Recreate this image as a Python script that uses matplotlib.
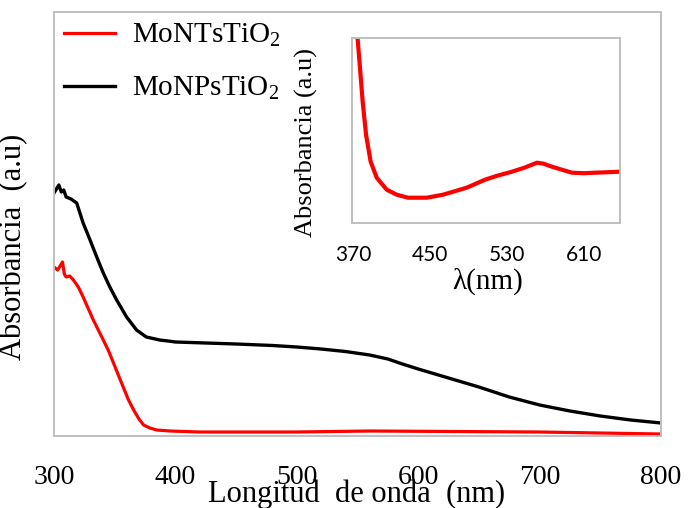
import matplotlib
matplotlib.use("Agg")
import matplotlib.pyplot as plt

plt.rcParams['font.family'] = ['Liberation Serif', 'DejaVu Serif']
plt.rcParams['mathtext.fontset'] = 'custom'
plt.rcParams['mathtext.rm'] = 'Liberation Serif'
plt.rcParams['mathtext.it'] = 'Liberation Serif:italic'

# main spectra (arbitrary absorbance units)
wl_np = [300, 302, 304, 306, 308, 310, 314, 318.7, 324, 329.7, 335.2, 340.6, 346, 351.6,
         359.8, 368, 376, 387, 394, 400, 450, 480, 500, 520, 540, 560, 575, 587, 600,
         625, 650, 675, 700, 725, 750, 775, 800]
abs_np = [2.43, 2.47, 2.51, 2.44, 2.46, 2.39, 2.37, 2.33, 2.13, 1.96, 1.79, 1.63, 1.49,
          1.36, 1.19, 1.06, 0.99, 0.96, 0.95, 0.94, 0.92, 0.905, 0.89, 0.87, 0.845, 0.81,
          0.77, 0.72, 0.67, 0.58, 0.49, 0.39, 0.31, 0.25, 0.20, 0.16, 0.13]

wl_nt = [300, 303, 305, 307, 308.5, 310, 313, 316, 320, 324, 328, 332.4, 336.5, 340.6,
         345, 349, 353, 357, 361, 365.6, 370, 373.8, 379, 384.6, 395.5, 420, 500, 560,
         700, 800]
abs_nt = [1.69, 1.66, 1.70, 1.74, 1.62, 1.59, 1.60, 1.56, 1.49, 1.39, 1.28, 1.16, 1.06,
          0.96, 0.85, 0.73, 0.61, 0.49, 0.37, 0.26, 0.17, 0.11, 0.08, 0.06, 0.05, 0.04,
          0.04, 0.05, 0.04, 0.02]

# inset: MoNTsTiO2 zoom
wl_in = [372, 374.4, 377.2, 380, 383.5, 388.3, 394.6, 405, 415.4, 427.1, 446.5, 463.5,
         488.1, 507.1, 520, 535.1, 548, 561.1, 568, 576.7, 587, 597.5, 610, 621.4,
         635, 647.4]
abs_in = [2.20, 1.88, 1.55, 1.21, 0.88, 0.61, 0.45, 0.33, 0.28, 0.25, 0.25, 0.28,
          0.35, 0.43, 0.47, 0.51, 0.55, 0.60, 0.59, 0.56, 0.53, 0.50, 0.495, 0.50,
          0.505, 0.51]

main_ticks = [300, 400, 500, 600, 700, 800]
inset_ticks = [370, 450, 530, 610]

spine_col = '#bfbfbf'

fig = plt.figure(figsize=(6.9, 5.08), dpi=100)
ax = fig.add_axes([54/690, 72/508, 607/690, 424/508])

ax.plot(wl_nt, abs_nt, color='#ff0000', lw=2.3, label=r'MoNTsTiO$_2$')
ax.plot(wl_np, abs_np, color='black', lw=2.4, label=r'MoNPsTiO$_2$')
ax.set_xlim(300, 800)
ax.set_ylim(0, 4.24)
ax.set_xticks(main_ticks)
ax.set_yticks([])
ax.tick_params(axis='x', length=0, pad=21, labelsize=20)
for s in ax.spines.values():
    s.set_color(spine_col)
    s.set_linewidth(1.4)

ax.set_xlabel('Longitud  de onda  (nm)', fontsize=22)
ax.xaxis.label.set_va('baseline')
ax.xaxis.set_label_coords(0.498, -0.156)
ax.set_ylabel('Absorbancia  (a.u)', fontsize=22)
ax.yaxis.set_label_coords(-0.043, 0.447)

ax.legend(loc='upper left', bbox_to_anchor=(0.016, 0.976), frameon=False,
          fontsize=21, handlelength=1.75, handletextpad=0.6, labelspacing=0.88,
          borderpad=0, borderaxespad=0)

# inset
ax2 = fig.add_axes([351.7/690, (508-222.7)/508, 268.3/690, 184.4/508])
ax2.plot(wl_in, abs_in, color='#ff0000', lw=3.0)
ax2.set_xlim(368.6, 647.4)
ax2.set_ylim(0, 1.844)
ax2.set_xticks(inset_ticks)
ax2.set_yticks([])
ax2.tick_params(axis='x', length=0, pad=16)
for lab in ax2.get_xticklabels():
    lab.set_fontfamily('Lato')
    lab.set_fontsize(15)
for s in ax2.spines.values():
    s.set_color(spine_col)
    s.set_linewidth(1.4)
ax2.set_xlabel(u'\u03bb(nm)', fontsize=21)
ax2.xaxis.label.set_va('baseline')
ax2.xaxis.set_label_coords(0.506, -0.358)
ax2.set_ylabel('Absorbancia (a.u)', fontsize=19)
ax2.yaxis.set_label_coords(-0.125, 0.435)

fig.savefig('out.png', dpi=100)
